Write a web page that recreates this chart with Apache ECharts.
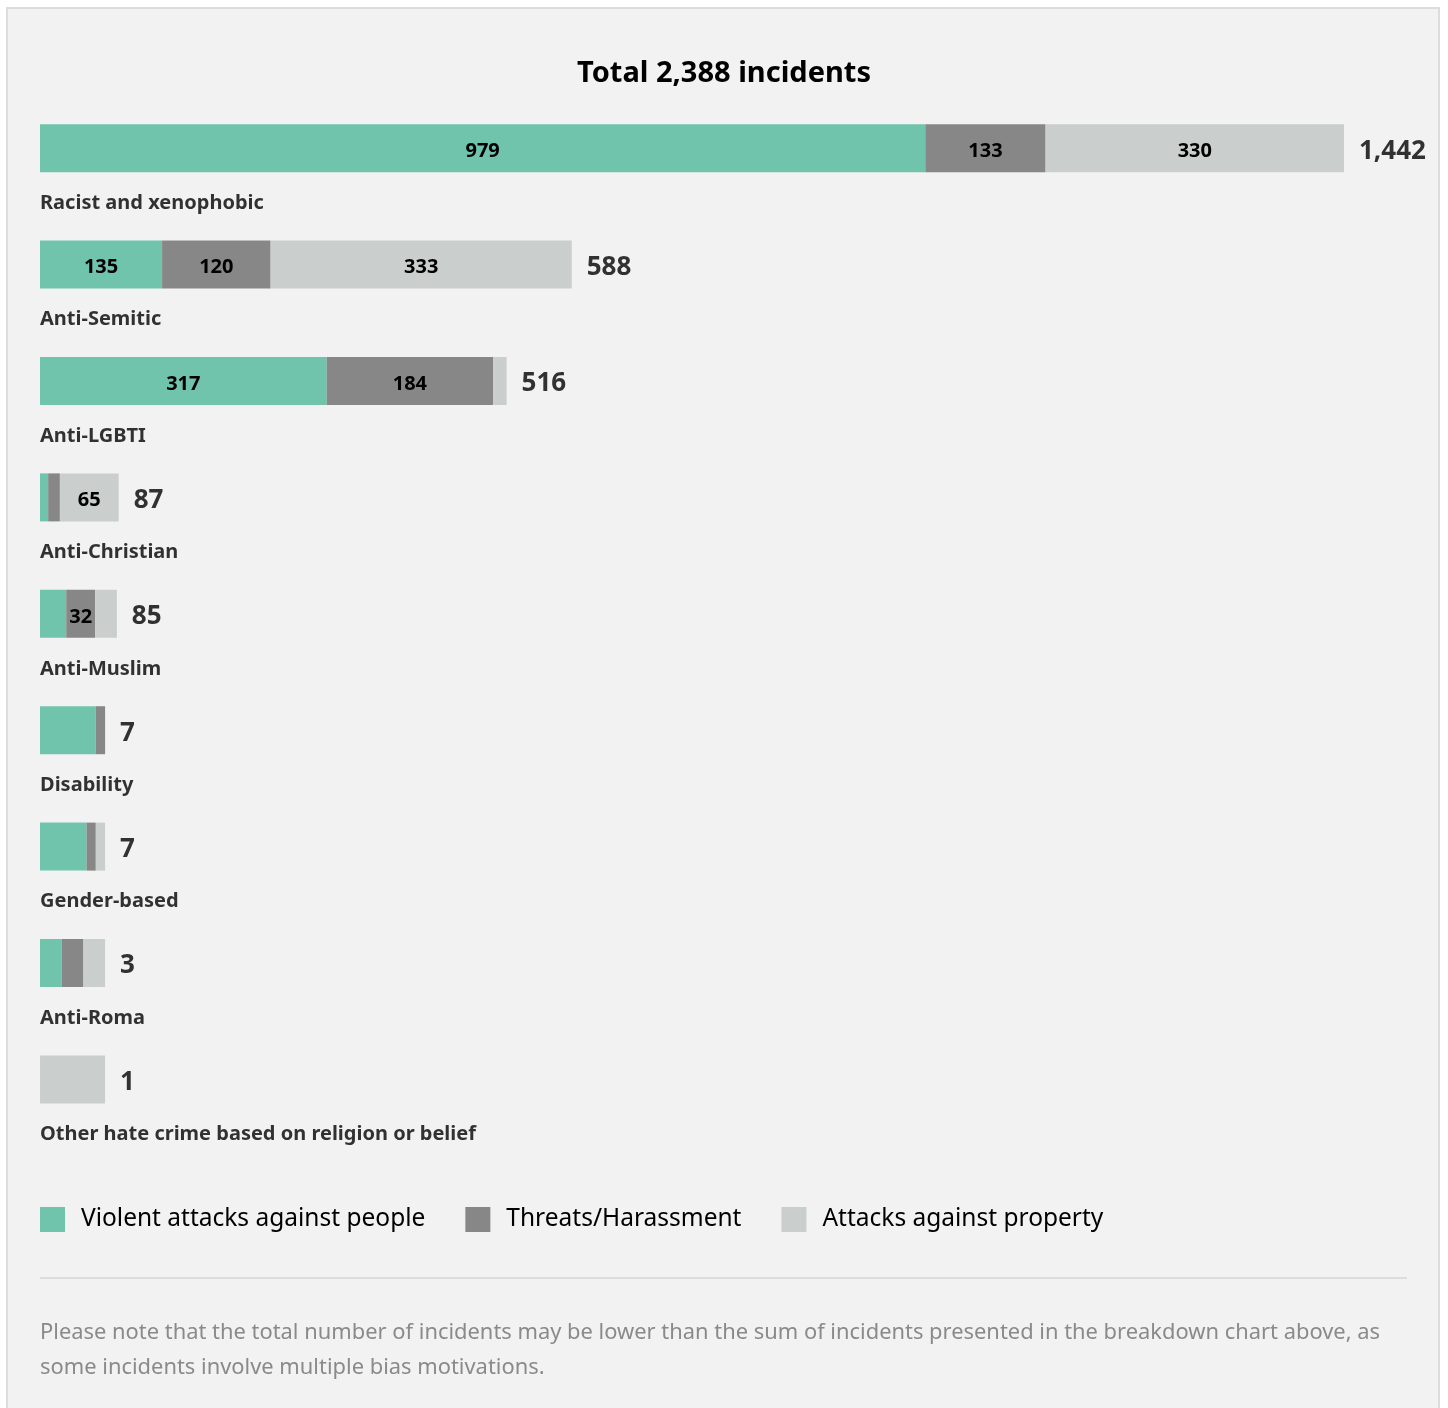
<!DOCTYPE html>
<html>
<head>
<meta charset="utf-8">
<style>
html,body{margin:0;padding:0;background:#fff;}
#chart{width:1448px;height:1408px;}
</style>
<script src="https://cdn.jsdelivr.net/npm/echarts@6/dist/echarts.min.js"></script>
</head>
<body>
<div id="chart"></div>
<script>
const categories = ['Racist and xenophobic','Anti-Semitic','Anti-LGBTI','Anti-Christian','Anti-Muslim','Disability','Gender-based','Anti-Roma','Other hate crime based on religion or belief'];
const violent  = [979, 135, 317,  9, 29, 6, 5, 1, 0];
const threats  = [133, 120, 184, 13, 32, 1, 1, 1, 0];
const property = [330, 333,  15, 65, 24, 0, 1, 1, 1];
const totals   = [1442, 588, 516, 87, 85, 7, 7, 3, 1];
const seriesNames = ['Violent attacks against people','Threats/Harassment','Attacks against property'];
const colors = ['#6fc4ab','#878787','#cacecd'];
const titleText = 'Total 2,388 incidents';
const noteLines = [
  'Please note that the total number of incidents may be lower than the sum of incidents presented in the breakdown chart above, as',
  'some incidents involve multiple bias motivations.'
];

// small bars are drawn with a minimum visible length (in axis units)
const MIN_UNITS = 72;
const factor = totals.map(t => t < MIN_UNITS ? MIN_UNITS / t : 1);
const FONT = '"Noto Sans", "Open Sans", sans-serif';
const fmt = n => n.toLocaleString('en-US');

const raw = [violent, threats, property];
const barSeries = raw.map((arr, k) => ({
  name: seriesNames[k],
  type: 'bar',
  stack: 'all',
  barWidth: 48,
  itemStyle: { color: colors[k] },
  data: arr.map((v, i) => v * factor[i]),
  label: {
    show: true,
    position: 'inside',
    offset: [0, 3],
    color: '#000',
    fontFamily: FONT,
    fontWeight: 'bold',
    fontSize: 20,
    formatter: p => raw[k][p.dataIndex] >= 30 ? String(raw[k][p.dataIndex]) : ''
  },
  emphasis: { disabled: true }
}));

const option = {
  backgroundColor: '#ffffff',
  animation: false,
  graphic: [
    { type: 'rect', z: -10, shape: { x: 7, y: 8, width: 1432, height: 1420 },
      style: { fill: '#f2f2f2', stroke: '#dcdcdc', lineWidth: 2 } },
    { type: 'text', style: { text: titleText, x: 724, y: 74, align: 'center', verticalAlign: 'middle',
      font: 'bold 29px ' + FONT, fill: '#000' } },
    { type: 'line', shape: { x1: 40, y1: 1278, x2: 1407, y2: 1278 },
      style: { stroke: '#dcdcdc', lineWidth: 2 } },
    { type: 'text', style: { text: noteLines[0], x: 40, y: 1333, verticalAlign: 'middle',
      font: '21.9px ' + FONT, fill: '#8a8a8a' } },
    { type: 'text', style: { text: noteLines[1], x: 40, y: 1368, verticalAlign: 'middle',
      font: '21.9px ' + FONT, fill: '#8a8a8a' } }
  ],
  legend: {
    data: seriesNames,
    left: 40,
    top: 1207,
    padding: 0,
    icon: 'rect',
    itemWidth: 25,
    itemHeight: 25,
    itemGap: 40,
    textStyle: { fontFamily: FONT, fontSize: 24.5, color: '#000', padding: [0, 0, 0, 11] },
    selectedMode: false
  },
  grid: { left: 40, top: 90, width: 1304, height: 1047.6, containLabel: false },
  xAxis: { type: 'value', min: 0, max: 1442, show: false },
  yAxis: { type: 'category', data: categories, inverse: true, show: false },
  series: [
    ...barSeries,
    {
      type: 'scatter',
      symbolSize: 0,
      silent: true,
      data: totals.map((t, i) => [t * factor[i], i]),
      label: {
        show: true, position: 'right', distance: 15, offset: [0, 3],
        fontFamily: FONT, fontWeight: 'bold', fontSize: 26, color: '#000',
        formatter: p => fmt(totals[p.dataIndex])
      }
    },
    {
      type: 'scatter',
      symbolSize: 0,
      silent: true,
      data: categories.map((c, i) => [0, i]),
      label: {
        show: true, position: 'right', distance: 0, offset: [0, 55],
        fontFamily: FONT, fontWeight: 'bold', fontSize: 20, color: '#000',
        formatter: p => categories[p.dataIndex]
      }
    }
  ]
};

const chart = echarts.init(document.getElementById('chart'));
chart.setOption(option);
</script>
</body>
</html>
